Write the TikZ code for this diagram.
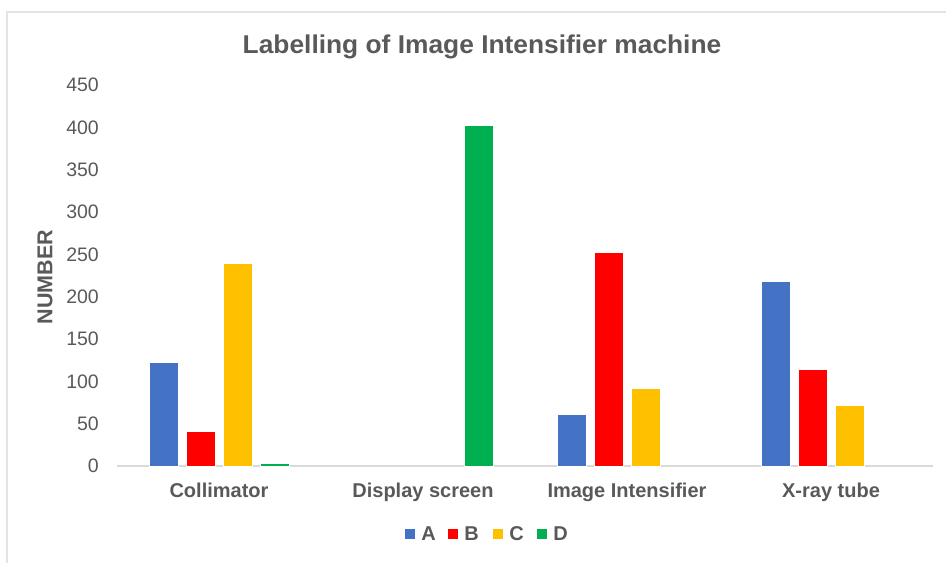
\documentclass[tikz,border=0pt]{standalone}
\usepackage{fontspec}
\setmainfont{Liberation Sans}
\usetikzlibrary{positioning}

\definecolor{ser0}{HTML}{4472C4}
\definecolor{ser1}{HTML}{FF0000}
\definecolor{ser2}{HTML}{FFC000}
\definecolor{ser3}{HTML}{00B050}
\definecolor{txtgray}{HTML}{595959}
\definecolor{gridgray}{HTML}{D9D9D9}
\definecolor{framegray}{HTML}{E3E3E3}

\begin{document}
\begin{tikzpicture}[x = 1pt, y = -1pt,
    lbl/.style = {text = txtgray, inner sep = 0pt, font = \fontsize{19.5}{21}\selectfont},
    catlbl/.style = {lbl, anchor = base, font = \bfseries\fontsize{20}{22}\selectfont},
    legsq/.style = {inner sep = 0pt, minimum size = 10pt},
    bar/.style = {draw = white, line width = 0.5pt}]
    \useasboundingbox (0,0) rectangle (946,563);
    % chart frame (only top and left visible)
    \draw[framegray, line width = 2pt] (6.5,563) -- (6.5,11.5) -- (946,11.5);
    % title
    \node[lbl, anchor = base, xscale = 1.075, yscale = 1.05, font = \bfseries\fontsize{24.5}{26}\selectfont] (title) at (482,53) {Labelling of Image Intensifier machine};
    % axis
    \coordinate (origin) at (117,466);
    \coordinate (xend) at (933,466);
    \draw[gridgray, line width = 1.5pt] (origin) -- (xend);
    \foreach \t in {0,50,...,450}
        \node[lbl, anchor = east] (tick\t) at (99, 466 - \t*0.8467) {\t};
    \node[lbl, rotate = 90, font = \bfseries\fontsize{21.5}{23}\selectfont] (ytitle) at (45,277) {NUMBER};
    % bars: category / series / value
    \foreach \c/\s/\v in {0/0/122, 0/1/41, 0/2/240, 0/3/3, 1/3/403, 2/0/61, 2/1/252, 2/2/92, 3/0/218, 3/1/114, 3/2/72} {
        \pgfmathsetmacro{\bx}{219 + 204*\c + (\s - 1.5)*37}
        \filldraw[bar, fill = ser\s] (\bx - 14.5, 466) rectangle (\bx + 14.5, 466 - \v*0.8467);
    }
    % categories
    \foreach \c/\name in {0/Collimator, 1/Display screen, 2/Image Intensifier, 3/X-ray tube}
        \node[catlbl] (cat\c) at (219 + 204*\c, 497) {\name};
    % legend
    \foreach \k/\n/\x in {0/A/405, 1/B/448, 2/C/493, 3/D/537} {
        \node[legsq, fill = ser\k] (key\n) at (\x + 5, 534) {};
        \node[catlbl, anchor = west, right = 6pt of key\n] (keylbl\n) {\n};
    }
\end{tikzpicture}
\end{document}
